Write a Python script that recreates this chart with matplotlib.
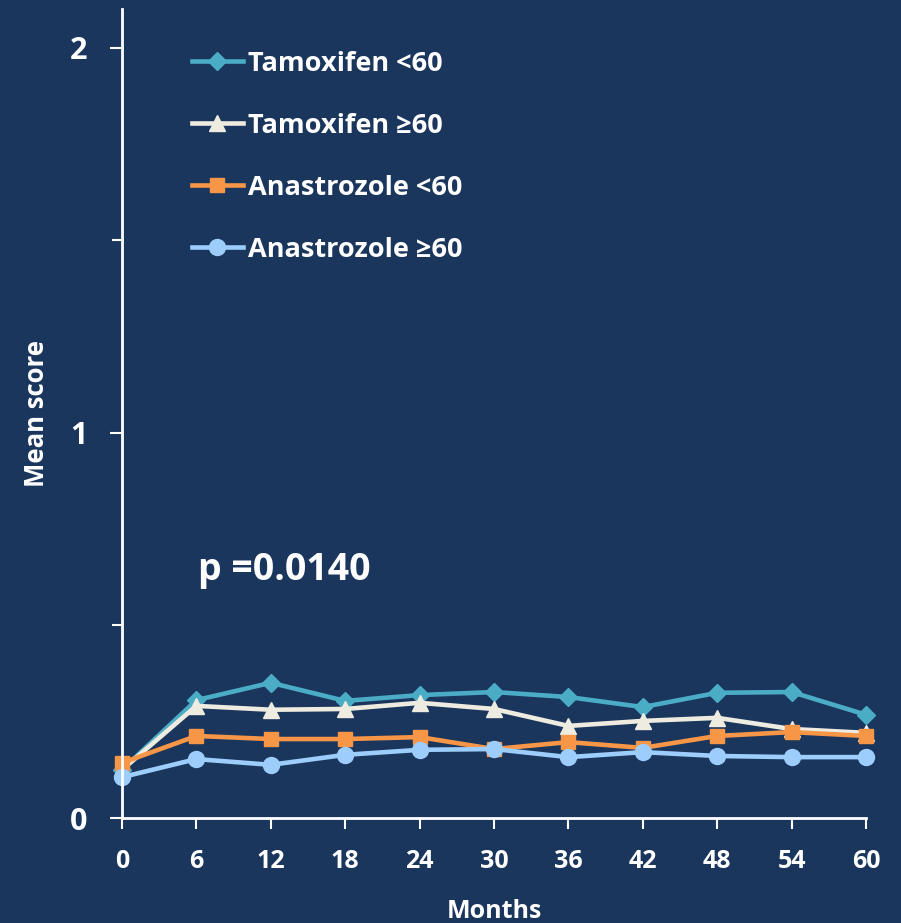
import matplotlib
matplotlib.use("Agg")
import matplotlib.pyplot as plt

plt.rcParams['font.family'] = ['Open Sans', 'DejaVu Sans']
plt.rcParams['font.weight'] = 'bold'

months = [0, 6, 12, 18, 24, 30, 36, 42, 48, 54, 60]

tamoxifen_lt60 = [0.125, 0.306, 0.351, 0.304, 0.319, 0.327, 0.314, 0.288, 0.325, 0.327, 0.268]
tamoxifen_ge60 = [0.125, 0.291, 0.281, 0.283, 0.299, 0.283, 0.239, 0.252, 0.260, 0.231, 0.221]
anastrozole_lt60 = [0.143, 0.213, 0.205, 0.205, 0.210, 0.179, 0.197, 0.182, 0.213, 0.223, 0.213]
anastrozole_ge60 = [0.106, 0.153, 0.138, 0.164, 0.177, 0.179, 0.158, 0.171, 0.161, 0.158, 0.158]

series_labels = ["Tamoxifen <60", "Tamoxifen \u226560", "Anastrozole <60", "Anastrozole \u226560"]
p_text = "p =0.0140"

bg = "#1a365d"
fg = "white"

fig = plt.figure(figsize=(9.01, 9.23), dpi=100, facecolor=bg)
ax = fig.add_axes([122 / 901, 1 - 818 / 923, (866 - 122) / 901, (818 - 9) / 923])
ax.set_facecolor(bg)

styles = [
    (tamoxifen_lt60, "#4bacc6", "D", 9),
    (tamoxifen_ge60, "#eeece1", "^", 11),
    (anastrozole_lt60, "#f79646", "s", 10.5),
    (anastrozole_ge60, "#9dcdfb", "o", 11.5),
]
for (vals, col, mk, ms), lab in zip(styles, series_labels):
    ax.plot(months, vals, color=col, lw=3.3, marker=mk, markersize=ms,
            markerfacecolor=col, markeredgecolor=col, label=lab, clip_on=False)

ax.set_xlim(0, 60)
ax.set_ylim(0, 2.1)
ax.set_xticks(months)
ax.set_yticks([0, 1, 2])
ax.set_yticks([0.5, 1.5], minor=True)
ax.set_xticklabels([str(m) for m in months], fontsize=18, fontweight='bold', color=fg)
ax.set_yticklabels(["0", "1", "2"], fontsize=22, fontweight='bold', color=fg)

for side in ("top", "right"):
    ax.spines[side].set_visible(False)
for side in ("left", "bottom"):
    ax.spines[side].set_color(fg)
    ax.spines[side].set_linewidth(2)

ax.tick_params(axis='x', direction='out', length=8, width=1.5, color=fg, pad=14)
ax.tick_params(axis='y', which='major', direction='out', length=9, width=1.5, color=fg, pad=16)
ax.tick_params(axis='y', which='minor', direction='out', length=7, width=1.5, color=fg)

ax.set_xlabel("Months", fontsize=18, fontweight='bold', color=fg, labelpad=18)
ax.set_ylabel("Mean score", fontsize=18.5, fontweight='bold', color=fg, labelpad=14)

ax.text(198 / 901, 1 - 570 / 923, p_text, transform=fig.transFigure,
        fontsize=27, fontweight='bold', color=fg, va='center', ha='left')

leg = ax.legend(loc='upper left', bbox_to_anchor=(178 / 901, 1 - 37 / 923),
                bbox_transform=fig.transFigure, frameon=False,
                fontsize=19.5, labelspacing=1.33, handlelength=1.9,
                handletextpad=0.2, borderpad=0)
for t in leg.get_texts():
    t.set_color(fg)
    t.set_fontweight('bold')

fig.savefig("out.png", dpi=100, facecolor=bg)
